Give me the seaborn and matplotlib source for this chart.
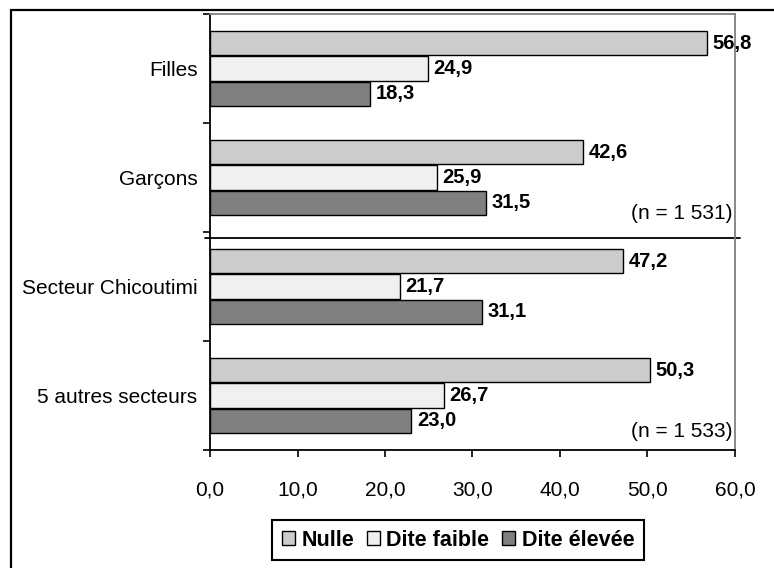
import pandas as pd
import matplotlib.pyplot as plt
import seaborn as sns
from matplotlib.patches import Patch, Rectangle
from matplotlib.ticker import FuncFormatter

# Data
groupes = ['Filles', 'Garçons', 'Secteur Chicoutimi', '5 autres secteurs']
niveaux = ['Nulle', 'Dite faible', 'Dite élevée']
nulle = [56.8, 42.6, 47.2, 50.3]
faible = [24.9, 25.9, 21.7, 26.7]
elevee = [18.3, 31.5, 31.1, 23.0]
couleurs = ['#cccccc', '#f0f0f0', '#808080']
notes = ['(n = 1 531)', '(n = 1 533)']

sns.set_style('white')
plt.rcParams['font.family'] = ['Liberation Sans', 'DejaVu Sans']
plt.rcParams['font.size'] = 14.5
for key in ['text.color', 'axes.labelcolor', 'xtick.color', 'ytick.color']:
    plt.rcParams[key] = 'black'

rows = []
for niv, vals in zip(niveaux, [nulle, faible, elevee]):
    for g, v in zip(groupes, vals):
        rows.append({'Groupe': g, 'Niveau': niv, 'Pourcentage': v})
df = pd.DataFrame(rows)

fig = plt.figure(figsize=(7.74, 5.68), dpi=100)
ax = fig.add_axes([210/774, 1 - 450/568, (735 - 210)/774, (450 - 14)/568])

sns.barplot(data=df, y='Groupe', x='Pourcentage', hue='Niveau', orient='h',
            order=groupes, hue_order=niveaux, palette=couleurs,
            edgecolor='black', linewidth=1, width=0.7, gap=0.04,
            legend=False, ax=ax)

# value labels
for cont, vals in zip(ax.containers, [nulle, faible, elevee]):
    ax.bar_label(cont, labels=[f'{v:.1f}'.replace('.', ',') for v in vals],
                 padding=4, fontweight='bold', fontsize=14.5, color='black')

ax.set_xlim(0, 60)
ax.set_ylim(3.5, -0.5)
ax.set_xticks(range(0, 61, 10))
ax.xaxis.set_major_formatter(FuncFormatter(lambda v, p: f'{v:.1f}'.replace('.', ',')))
ax.tick_params(axis='x', length=5, width=1.2, color='black', labelcolor='black',
               pad=17, direction='out', bottom=True, labelsize=15)

# y ticks at group boundaries, labels at centres
ax.set_yticks([-0.5, 0.5, 1.5, 2.5, 3.5])
ax.set_yticklabels([])
ax.set_yticks(range(len(groupes)), minor=True)
ax.set_yticklabels(groupes, minor=True)
ax.tick_params(axis='y', which='major', length=5, width=1.2, color='black', direction='out', left=True)
ax.tick_params(axis='y', which='minor', length=0, pad=9, labelsize=15, labelcolor='black')
ax.set_xlabel('')
ax.set_ylabel('')

for side in ['left', 'bottom']:
    ax.spines[side].set_color('black')
    ax.spines[side].set_linewidth(1.3)
for side in ['top', 'right']:
    ax.spines[side].set_color('#808080')
    ax.spines[side].set_linewidth(1.3)

# separator between the two comparisons
ax.axhline(1.555, xmin=-0.01, xmax=1.01, color='black', lw=1.3, clip_on=False)

ax.text(0.996, 1.33, notes[0], ha='right', va='center', fontsize=15,
        transform=ax.get_yaxis_transform())
ax.text(0.996, 3.33, notes[1], ha='right', va='center', fontsize=15,
        transform=ax.get_yaxis_transform())

handles = [Patch(facecolor=c, edgecolor='black', linewidth=1) for c in couleurs]
leg = fig.legend(handles, niveaux, loc='center', ncol=3,
                 bbox_to_anchor=(458/774, 1 - 540/568),
                 frameon=True, fancybox=False, framealpha=1,
                 handlelength=0.6, handleheight=0.6, handletextpad=0.3,
                 columnspacing=0.6, borderpad=0.45,
                 prop={'weight': 'bold', 'size': 15.5})
leg.get_frame().set_edgecolor('black')
leg.get_frame().set_linewidth(1.5)

# outer frame (only left and top visible)
fig.add_artist(Rectangle((11/774, -0.1), 1.2, 1.1 - 10/568, transform=fig.transFigure,
                         fill=False, edgecolor='black', lw=1.6))

fig.savefig('out.png', dpi=100)
